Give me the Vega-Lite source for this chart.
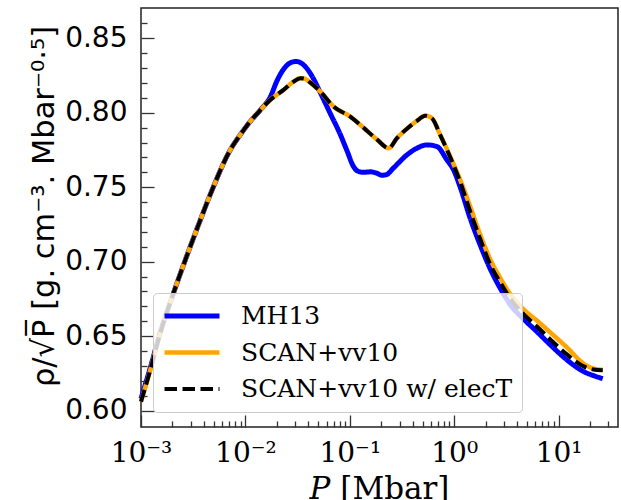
{
  "$schema": "https://vega.github.io/schema/vega-lite/v6.json",
  "width": 477,
  "height": 419,
  "autosize": {"type": "none"},
  "padding": {"left": 141, "top": 8, "right": 3, "bottom": 73},
  "background": "white",
  "config": {
    "view": {"stroke": "#222222", "strokeWidth": 1.5},
    "axis": {"grid": false, "domain": false, "tickColor": "#333333", "tickWidth": 1.3, "labelColor": "#000000", "titleColor": "#000000"},
    "legend": {
      "labelFont": "DejaVu Serif", "labelFontSize": 25, "labelColor": "#000000", "labelLimit": 0,
      "symbolType": "stroke", "symbolSize": 3025, "clipHeight": 28, "rowPadding": 8.5,
      "padding": 9, "labelOffset": 19, "strokeColor": "#cccccc",
      "fillColor": "rgba(255,255,255,0.8)", "cornerRadius": 4
    }
  },
  "data": {"values": [
    {"s": "MH13", "P": 0.001, "v": 0.608},
    {"s": "MH13", "P": 0.00123, "v": 0.629},
    {"s": "MH13", "P": 0.00153, "v": 0.6525},
    {"s": "MH13", "P": 0.00205, "v": 0.679},
    {"s": "MH13", "P": 0.00296, "v": 0.710},
    {"s": "MH13", "P": 0.0035, "v": 0.7235},
    {"s": "MH13", "P": 0.00479, "v": 0.748},
    {"s": "MH13", "P": 0.00716, "v": 0.775},
    {"s": "MH13", "P": 0.009, "v": 0.7855},
    {"s": "MH13", "P": 0.0111, "v": 0.794},
    {"s": "MH13", "P": 0.0139, "v": 0.8018},
    {"s": "MH13", "P": 0.0173, "v": 0.8105},
    {"s": "MH13", "P": 0.0201, "v": 0.8215},
    {"s": "MH13", "P": 0.0232, "v": 0.8292},
    {"s": "MH13", "P": 0.0265, "v": 0.8332},
    {"s": "MH13", "P": 0.0305, "v": 0.8344},
    {"s": "MH13", "P": 0.0345, "v": 0.8332},
    {"s": "MH13", "P": 0.0395, "v": 0.829},
    {"s": "MH13", "P": 0.0435, "v": 0.8245},
    {"s": "MH13", "P": 0.0522, "v": 0.8135},
    {"s": "MH13", "P": 0.065, "v": 0.7995},
    {"s": "MH13", "P": 0.081, "v": 0.7855},
    {"s": "MH13", "P": 0.094, "v": 0.7745},
    {"s": "MH13", "P": 0.1087, "v": 0.7638},
    {"s": "MH13", "P": 0.12, "v": 0.7607},
    {"s": "MH13", "P": 0.135, "v": 0.76},
    {"s": "MH13", "P": 0.157, "v": 0.7603},
    {"s": "MH13", "P": 0.18, "v": 0.7595},
    {"s": "MH13", "P": 0.203, "v": 0.758},
    {"s": "MH13", "P": 0.225, "v": 0.7585},
    {"s": "MH13", "P": 0.263, "v": 0.763},
    {"s": "MH13", "P": 0.353, "v": 0.7717},
    {"s": "MH13", "P": 0.44, "v": 0.7762},
    {"s": "MH13", "P": 0.549, "v": 0.7784},
    {"s": "MH13", "P": 0.684, "v": 0.7773},
    {"s": "MH13", "P": 0.853, "v": 0.7683},
    {"s": "MH13", "P": 0.987, "v": 0.7616},
    {"s": "MH13", "P": 1.143, "v": 0.750},
    {"s": "MH13", "P": 1.425, "v": 0.729},
    {"s": "MH13", "P": 1.78, "v": 0.711},
    {"s": "MH13", "P": 2.22, "v": 0.695},
    {"s": "MH13", "P": 2.77, "v": 0.682},
    {"s": "MH13", "P": 3.5, "v": 0.6705},
    {"s": "MH13", "P": 4.62, "v": 0.6615},
    {"s": "MH13", "P": 6.2, "v": 0.653},
    {"s": "MH13", "P": 8.33, "v": 0.6442},
    {"s": "MH13", "P": 12, "v": 0.6341},
    {"s": "MH13", "P": 17.4, "v": 0.6262},
    {"s": "MH13", "P": 21.6, "v": 0.6235},
    {"s": "MH13", "P": 26.5, "v": 0.6215},

    {"s": "SCAN+vv10", "P": 0.001, "v": 0.606},
    {"s": "SCAN+vv10", "P": 0.00123, "v": 0.6275},
    {"s": "SCAN+vv10", "P": 0.00153, "v": 0.652},
    {"s": "SCAN+vv10", "P": 0.00205, "v": 0.679},
    {"s": "SCAN+vv10", "P": 0.00296, "v": 0.710},
    {"s": "SCAN+vv10", "P": 0.0035, "v": 0.7235},
    {"s": "SCAN+vv10", "P": 0.00479, "v": 0.748},
    {"s": "SCAN+vv10", "P": 0.00716, "v": 0.775},
    {"s": "SCAN+vv10", "P": 0.009, "v": 0.7855},
    {"s": "SCAN+vv10", "P": 0.0111, "v": 0.794},
    {"s": "SCAN+vv10", "P": 0.0139, "v": 0.8018},
    {"s": "SCAN+vv10", "P": 0.0173, "v": 0.8086},
    {"s": "SCAN+vv10", "P": 0.0232, "v": 0.8153},
    {"s": "SCAN+vv10", "P": 0.029, "v": 0.8209},
    {"s": "SCAN+vv10", "P": 0.0336, "v": 0.8232},
    {"s": "SCAN+vv10", "P": 0.037, "v": 0.8228},
    {"s": "SCAN+vv10", "P": 0.0419, "v": 0.8202},
    {"s": "SCAN+vv10", "P": 0.0522, "v": 0.8142},
    {"s": "SCAN+vv10", "P": 0.07, "v": 0.8041},
    {"s": "SCAN+vv10", "P": 0.101, "v": 0.7974},
    {"s": "SCAN+vv10", "P": 0.1356, "v": 0.7899},
    {"s": "SCAN+vv10", "P": 0.182, "v": 0.782},
    {"s": "SCAN+vv10", "P": 0.236, "v": 0.7762},
    {"s": "SCAN+vv10", "P": 0.283, "v": 0.7829},
    {"s": "SCAN+vv10", "P": 0.353, "v": 0.7893},
    {"s": "SCAN+vv10", "P": 0.44, "v": 0.7945},
    {"s": "SCAN+vv10", "P": 0.528, "v": 0.798},
    {"s": "SCAN+vv10", "P": 0.612, "v": 0.7963},
    {"s": "SCAN+vv10", "P": 0.736, "v": 0.785},
    {"s": "SCAN+vv10", "P": 0.918, "v": 0.7705},
    {"s": "SCAN+vv10", "P": 1.143, "v": 0.7549},
    {"s": "SCAN+vv10", "P": 1.425, "v": 0.737},
    {"s": "SCAN+vv10", "P": 1.78, "v": 0.718},
    {"s": "SCAN+vv10", "P": 2.22, "v": 0.7015},
    {"s": "SCAN+vv10", "P": 2.77, "v": 0.689},
    {"s": "SCAN+vv10", "P": 3.5, "v": 0.6775},
    {"s": "SCAN+vv10", "P": 4.62, "v": 0.668},
    {"s": "SCAN+vv10", "P": 6.2, "v": 0.6605},
    {"s": "SCAN+vv10", "P": 8.33, "v": 0.6525},
    {"s": "SCAN+vv10", "P": 12, "v": 0.6425},
    {"s": "SCAN+vv10", "P": 17.4, "v": 0.6315},
    {"s": "SCAN+vv10", "P": 21.6, "v": 0.6282},
    {"s": "SCAN+vv10", "P": 26.5, "v": 0.6274},

    {"s": "SCAN+vv10 w/ elecT", "P": 0.001, "v": 0.606},
    {"s": "SCAN+vv10 w/ elecT", "P": 0.00123, "v": 0.6275},
    {"s": "SCAN+vv10 w/ elecT", "P": 0.00153, "v": 0.652},
    {"s": "SCAN+vv10 w/ elecT", "P": 0.00205, "v": 0.679},
    {"s": "SCAN+vv10 w/ elecT", "P": 0.00296, "v": 0.710},
    {"s": "SCAN+vv10 w/ elecT", "P": 0.0035, "v": 0.7235},
    {"s": "SCAN+vv10 w/ elecT", "P": 0.00479, "v": 0.748},
    {"s": "SCAN+vv10 w/ elecT", "P": 0.00716, "v": 0.775},
    {"s": "SCAN+vv10 w/ elecT", "P": 0.009, "v": 0.7855},
    {"s": "SCAN+vv10 w/ elecT", "P": 0.0111, "v": 0.794},
    {"s": "SCAN+vv10 w/ elecT", "P": 0.0139, "v": 0.8018},
    {"s": "SCAN+vv10 w/ elecT", "P": 0.0173, "v": 0.8086},
    {"s": "SCAN+vv10 w/ elecT", "P": 0.0232, "v": 0.8153},
    {"s": "SCAN+vv10 w/ elecT", "P": 0.029, "v": 0.8209},
    {"s": "SCAN+vv10 w/ elecT", "P": 0.0336, "v": 0.8232},
    {"s": "SCAN+vv10 w/ elecT", "P": 0.037, "v": 0.8228},
    {"s": "SCAN+vv10 w/ elecT", "P": 0.0419, "v": 0.8202},
    {"s": "SCAN+vv10 w/ elecT", "P": 0.0522, "v": 0.8142},
    {"s": "SCAN+vv10 w/ elecT", "P": 0.07, "v": 0.8041},
    {"s": "SCAN+vv10 w/ elecT", "P": 0.101, "v": 0.7974},
    {"s": "SCAN+vv10 w/ elecT", "P": 0.1356, "v": 0.7899},
    {"s": "SCAN+vv10 w/ elecT", "P": 0.182, "v": 0.782},
    {"s": "SCAN+vv10 w/ elecT", "P": 0.236, "v": 0.7762},
    {"s": "SCAN+vv10 w/ elecT", "P": 0.283, "v": 0.7829},
    {"s": "SCAN+vv10 w/ elecT", "P": 0.353, "v": 0.7893},
    {"s": "SCAN+vv10 w/ elecT", "P": 0.44, "v": 0.7945},
    {"s": "SCAN+vv10 w/ elecT", "P": 0.528, "v": 0.798},
    {"s": "SCAN+vv10 w/ elecT", "P": 0.612, "v": 0.7963},
    {"s": "SCAN+vv10 w/ elecT", "P": 0.736, "v": 0.785},
    {"s": "SCAN+vv10 w/ elecT", "P": 0.918, "v": 0.770},
    {"s": "SCAN+vv10 w/ elecT", "P": 1.143, "v": 0.7535},
    {"s": "SCAN+vv10 w/ elecT", "P": 1.425, "v": 0.7335},
    {"s": "SCAN+vv10 w/ elecT", "P": 1.78, "v": 0.715},
    {"s": "SCAN+vv10 w/ elecT", "P": 2.22, "v": 0.698},
    {"s": "SCAN+vv10 w/ elecT", "P": 2.77, "v": 0.686},
    {"s": "SCAN+vv10 w/ elecT", "P": 3.5, "v": 0.6745},
    {"s": "SCAN+vv10 w/ elecT", "P": 4.62, "v": 0.6648},
    {"s": "SCAN+vv10 w/ elecT", "P": 6.2, "v": 0.6565},
    {"s": "SCAN+vv10 w/ elecT", "P": 8.33, "v": 0.6478},
    {"s": "SCAN+vv10 w/ elecT", "P": 12, "v": 0.6378},
    {"s": "SCAN+vv10 w/ elecT", "P": 17.4, "v": 0.6297},
    {"s": "SCAN+vv10 w/ elecT", "P": 21.6, "v": 0.6276},
    {"s": "SCAN+vv10 w/ elecT", "P": 26.5, "v": 0.6271}
  ]},
  "layer": [
    {
      "mark": {"type": "line", "interpolate": "monotone"},
      "encoding": {
        "x": {
          "field": "P", "type": "quantitative",
          "scale": {"type": "log", "domain": [0.001, 37.1], "nice": false},
          "axis": {
            "orient": "bottom", "values": [0.001, 0.01, 0.1, 1, 10], "ticks": false,
            "labelExpr": "datum.value < 0.005 ? '10\u207b\u00b3' : datum.value < 0.05 ? '10\u207b\u00b2' : datum.value < 0.5 ? '10\u207b\u00b9' : datum.value < 5 ? '10\u2070' : '10\u00b9'",
            "labelFont": "DejaVu Serif", "labelFontSize": 28, "labelFlush": false, "labelOverlap": false,
            "labelBound": false, "labelPadding": 34, "labelBaseline": "alphabetic",
            "title": "\ud835\udc43 [Mbar]", "titleFont": "DejaVu Serif", "titleFontSize": 31, "titleFontWeight": "normal",
            "titleX": 238, "titleY": 71.5, "titleBaseline": "alphabetic", "titleAlign": "center"
          }
        },
        "y": {
          "field": "v", "type": "quantitative",
          "scale": {"domain": [0.589, 0.8703], "nice": false, "zero": false},
          "axis": {
            "orient": "left", "values": [0.6, 0.65, 0.7, 0.75, 0.8, 0.85], "format": ".2f", "ticks": false,
            "labelFont": "DejaVu Sans", "labelFontSize": 28, "labelPadding": 14, "labelOverlap": false,
            "labelBound": false, "labelFlush": false,
            "title": "\u03c1/\u221aP\u0305 [g. cm\u207b\u00b3. Mbar\u207b\u2070\u00b7\u2075]",
            "titleFont": "DejaVu Sans", "titleFontSize": 30.5, "titleFontWeight": "normal",
            "titleAngle": 270, "titleX": -88, "titleY": 198, "titleBaseline": "alphabetic", "titleAlign": "center"
          }
        },
        "color": {
          "field": "s", "type": "nominal",
          "scale": {"domain": ["MH13", "SCAN+vv10", "SCAN+vv10 w/ elecT"], "range": ["#0000ff", "#ffa500", "#000000"]},
          "legend": {"title": null, "orient": "none", "legendX": 12, "legendY": 285}
        },
        "strokeDash": {
          "field": "s", "type": "nominal",
          "scale": {"domain": ["MH13", "SCAN+vv10", "SCAN+vv10 w/ elecT"], "range": [[1, 0], [1, 0], [12.5, 5.5]]},
          "legend": {"title": null, "orient": "none", "legendX": 12, "legendY": 285}
        },
        "strokeWidth": {
          "field": "s", "type": "nominal",
          "scale": {"domain": ["MH13", "SCAN+vv10", "SCAN+vv10 w/ elecT"], "range": [5, 4, 3.4]},
          "legend": {"title": null, "orient": "none", "legendX": 12, "legendY": 285}
        }
      }
    },
    {
      "mark": {"type": "point", "opacity": 0},
      "encoding": {
        "x": {
          "field": "P", "type": "quantitative",
          "axis": {"orient": "bottom", "labels": false, "title": null, "tickSize": -12, "values": [0.001, 0.01, 0.1, 1, 10]}
        },
        "y": {
          "field": "v", "type": "quantitative",
          "axis": {"orient": "left", "labels": false, "title": null, "tickSize": -13, "values": [0.6, 0.65, 0.7, 0.75, 0.8, 0.85]}
        }
      }
    },
    {
      "mark": {"type": "point", "opacity": 0},
      "encoding": {
        "x": {
          "field": "P", "type": "quantitative",
          "axis": {
            "orient": "bottom", "labels": false, "title": null, "tickSize": -6,
            "values": [0.002, 0.003, 0.004, 0.005, 0.006, 0.007, 0.008, 0.009, 0.02, 0.03, 0.04, 0.05, 0.06, 0.07, 0.08, 0.09, 0.2, 0.3, 0.4, 0.5, 0.6, 0.7, 0.8, 0.9, 2, 3, 4, 5, 6, 7, 8, 9, 20, 30]
          }
        },
        "y": {
          "field": "v", "type": "quantitative",
          "axis": {
            "orient": "left", "labels": false, "title": null, "tickSize": -6,
            "values": [0.61, 0.62, 0.63, 0.64, 0.66, 0.67, 0.68, 0.69, 0.71, 0.72, 0.73, 0.74, 0.76, 0.77, 0.78, 0.79, 0.81, 0.82, 0.83, 0.84, 0.86]
          }
        }
      }
    }
  ],
  "resolve": {"axis": {"x": "independent", "y": "independent"}}
}
